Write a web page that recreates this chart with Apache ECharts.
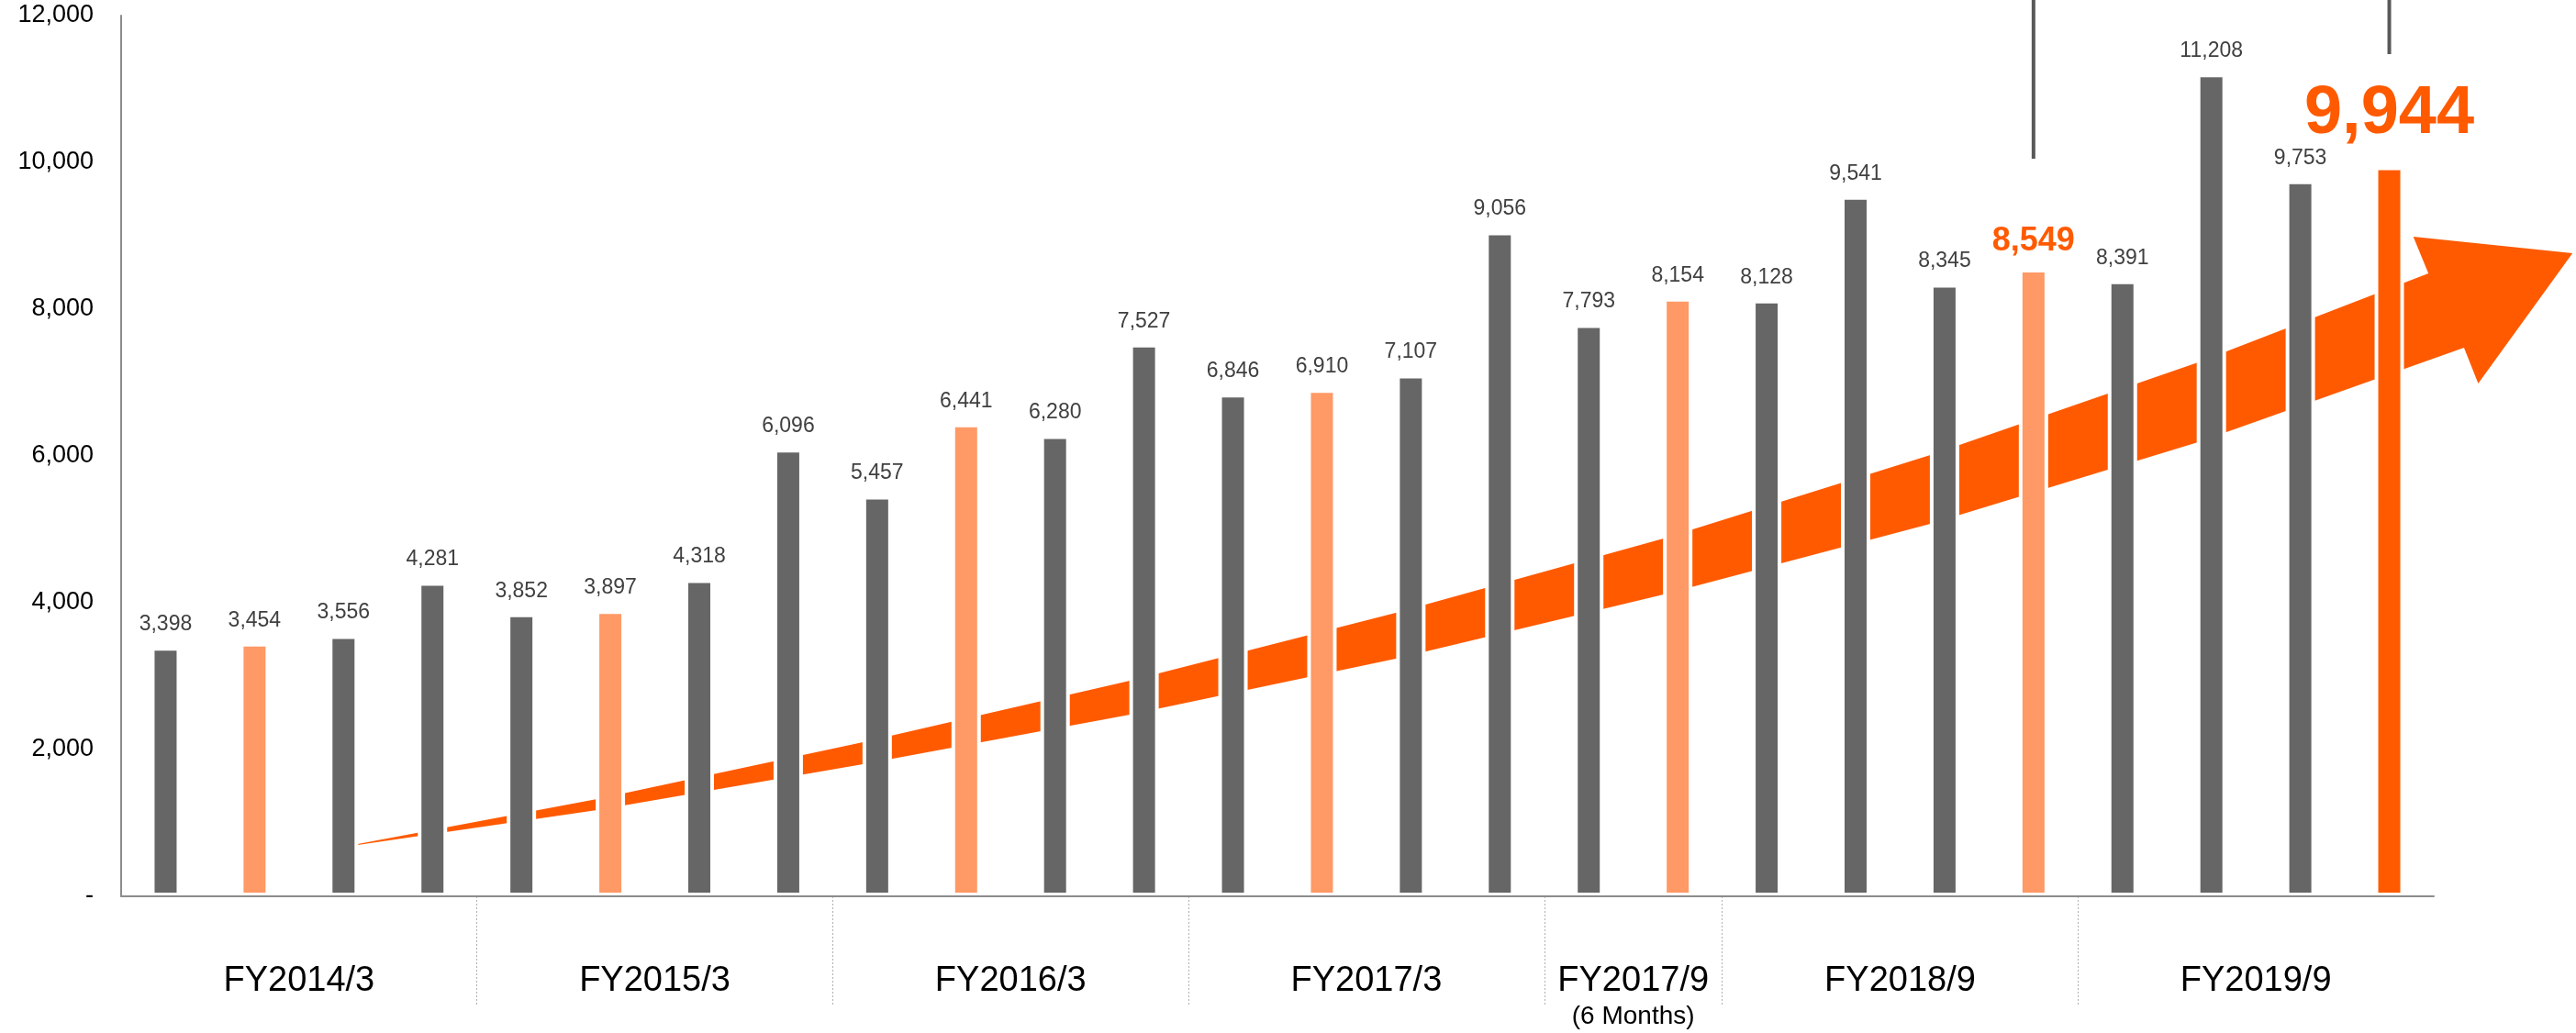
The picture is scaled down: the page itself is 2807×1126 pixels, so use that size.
<!DOCTYPE html>
<html>
<head>
<meta charset="utf-8">
<title>Quarterly results</title>
<script src="https://cdn.jsdelivr.net/npm/echarts@6/dist/echarts.min.js"></script>
<style>
  html, body { margin: 0; padding: 0; background: #fff; }
  #chart { width: 2807px; height: 1126px; }
</style>
</head>
<body>
<div id="chart"></div>
<script>
// fiscal periods and how many bars each one has
const groupNames = ['FY2014/3', 'FY2015/3', 'FY2016/3', 'FY2017/3', 'FY2017/9', 'FY2018/9', 'FY2019/9']
const groupSizes = [4, 4, 4, 4, 2, 4, 4]
const groupNotes = { 'FY2017/9': '(6 Months)' }

// one value per quarter
const values = [
  3398, 3454, 3556, 4281,
  3852, 3897, 4318, 6096,
  5457, 6441, 6280, 7527,
  6846, 6910, 7107, 9056,
  7793, 8154,
  8128, 9541, 8345, 8549,
  8391, 11208, 9753, 9944
]
// q = quarter, q2 = second quarter, hl = highlighted second quarter, now = latest
const barKinds = [
  'q', 'q2', 'q', 'q',
  'q', 'q2', 'q', 'q',
  'q', 'q2', 'q', 'q',
  'q', 'q2', 'q', 'q',
  'q', 'q2',
  'q', 'q', 'q', 'hl',
  'q', 'q', 'q', 'now'
]
const yTicks = [0, 2000, 4000, 6000, 8000, 10000, 12000]

// trend arrow outline in (bar slot, value) units
const arrowTop = [[2.45, 660], [2.66, 712], [5.35, 1325], [8.34, 2100], [11.34, 2937], [14.33, 3862], [17.34, 4875], [20.34, 6012], [23.35, 7275], [25.94, 8487]]
const arrowHead = [[25.77, 8987], [27.56, 8762], [26.5, 6987]]
const arrowBottom = [[2.66, 700], [5.35, 1175], [8.34, 1800], [11.34, 2475], [14.33, 3237], [17.34, 4112], [20.34, 5075], [23.35, 6187], [26.34, 7475]]

// leader lines over the two highlighted bars: [bar index, lower end value]
const leaderLines = [[21, 10050], [25, 11475]]

const barColors = { q: '#666666', q2: '#FF9966', hl: '#FF9966', now: '#FF5A00' }
const orange = '#FF5A00'
const font = "'Liberation Sans', Arial, sans-serif"

// period names, boundaries and centres of each fiscal period
const periods = []
const groupBounds = []
const groupMids = {}
let pos = 0
groupNames.forEach((g, gi) => {
  for (let q = 1; q <= groupSizes[gi]; q++) periods.push(g + ' ' + q + 'Q')
  groupMids[pos + groupSizes[gi] / 2] = g
  pos += groupSizes[gi]
  if (pos < values.length) groupBounds.push(pos)
})

const bars = values.map((v, i) => {
  const k = barKinds[i]
  const item = { value: v, itemStyle: { color: barColors[k] } }
  if (k === 'hl') item.label = { fontSize: 36, fontWeight: 'bold', color: orange, distance: 12 }
  if (k === 'now') item.label = { fontSize: 74, fontWeight: 'bold', color: orange, distance: 20 }
  return item
})

const chart = echarts.init(document.getElementById('chart'))

chart.setOption({
  animation: false,
  textStyle: { fontFamily: font },
  grid: { left: 132, right: 155, top: 17, bottom: 149 },
  xAxis: [
    {
      type: 'category',
      data: periods,
      z: 10,
      axisLine: { lineStyle: { color: '#8c8c8c', width: 2 } },
      axisTick: { show: false },
      axisLabel: { show: false }
    },
    {
      type: 'value',
      min: 0,
      max: values.length,
      position: 'bottom',
      axisLine: { show: false },
      splitLine: { show: false },
      axisTick: {
        show: true,
        customValues: groupBounds,
        length: 120,
        lineStyle: { color: '#b0b0b0', width: 1, type: [2, 2] }
      },
      axisLabel: {
        customValues: Object.keys(groupMids).map(Number),
        margin: 71,
        color: '#000',
        fontSize: 38,
        formatter: (v) => {
          const name = groupMids[v]
          if (!name) return ''
          return groupNotes[name] ? '{a|' + name + '}\n{b|' + groupNotes[name] + '}' : '{a|' + name + '}'
        },
        rich: {
          a: { fontSize: 38, lineHeight: 44, color: '#000', fontFamily: font },
          b: { fontSize: 28, lineHeight: 32, color: '#000', fontFamily: font }
        }
      }
    }
  ],
  yAxis: {
    type: 'value',
    min: yTicks[0],
    max: yTicks[yTicks.length - 1],
    interval: 2000,
    axisLine: { show: true, lineStyle: { color: '#8c8c8c', width: 2 } },
    axisTick: { show: false },
    splitLine: { show: false },
    axisLabel: {
      fontSize: 27,
      color: '#000',
      margin: 30,
      formatter: (v) => (v === 0 ? '-' : v.toLocaleString('en-US'))
    }
  },
  series: [
    {
      // growth arrow behind the bars
      type: 'custom',
      xAxisIndex: 1,
      z: 1,
      silent: true,
      data: [[0, 0]],
      renderItem: (params, api) => {
        const outline = arrowTop.concat(arrowHead, arrowBottom.slice().reverse())
        return {
          type: 'polygon',
          shape: { points: outline.map((p) => api.coord(p)) },
          style: { fill: orange }
        }
      }
    },
    {
      type: 'bar',
      data: bars,
      barWidth: 32,
      z: 2,
      itemStyle: { borderColor: '#fff', borderWidth: 4 },
      label: {
        show: true,
        position: 'top',
        distance: 13,
        fontSize: 23,
        color: '#404040',
        fontFamily: font,
        formatter: (p) => p.value.toLocaleString('en-US')
      }
    },
    {
      // leader lines coming down from above the chart
      type: 'custom',
      xAxisIndex: 1,
      z: 5,
      silent: true,
      data: leaderLines,
      renderItem: (params, api) => {
        const slot = api.value(0) + 0.5
        const top = api.coord([slot, 12400])
        const end = api.coord([slot, api.value(1)])
        return {
          type: 'line',
          shape: { x1: top[0], y1: top[1], x2: end[0], y2: end[1] },
          style: { stroke: '#595959', lineWidth: 4 }
        }
      }
    }
  ]
})

window.addEventListener('resize', () => chart.resize())
</script>
</body>
</html>
